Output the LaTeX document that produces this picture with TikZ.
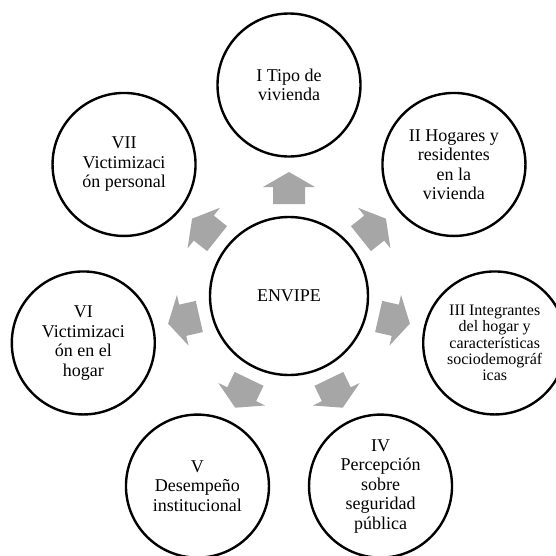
\documentclass[tikz,border=0pt]{standalone}
\usepackage{fontspec}
\setmainfont{Liberation Serif}
\tikzset{
  hubcirc/.style={circle, draw=black, line width=2.4pt, minimum size=158pt,
                  inner sep=0pt, font=\fontsize{18pt}{19.5pt}\selectfont},
  partcirc/.style={circle, draw=black, line width=2.4pt, minimum size=143pt,
                   inner sep=0pt, align=center, font=\fontsize{18pt}{19.5pt}\selectfont},
  smalltext/.style={font=\fontsize{16pt}{16.4pt}\selectfont},
  blockarr/.style={fill=black!35, draw=none},
}
\begin{document}
\begin{tikzpicture}[x=1pt, y=1pt]
  \useasboundingbox (-289,-259) rectangle (267,296);
  \clip (-289,-259) rectangle (267,296);

  \node[hubcirc] (hub) at (0,0) {ENVIPE};

  \node[partcirc] (s1) at (90:211) {I Tipo de\\vivienda};
  \node[partcirc] (s2) at (38.57:211) {II Hogares y\\residentes\\en la\\vivienda};
  \node[partcirc, smalltext] (s3) at (-12.86:211) {III Integrantes\\del hogar y\\características\\sociodemográf\\icas};
  \node[partcirc] (s4) at (-64.29:211) {IV\\Percepción\\sobre\\seguridad\\pública};
  \node[partcirc] (s5) at (-115.71:211) {V\\Desempeño\\institucional};
  \node[partcirc] (s6) at (-167.14:211) {VI\\Victimizaci\\ón en el\\hogar};
  \node[partcirc] (s7) at (141.43:211) {VII\\Victimizaci\\ón personal};

  % block arrows from the hub outwards
  \foreach \a in {90, 38.57, -12.86, -64.29, -115.71, -167.14, 141.43} {
    \fill[blockarr, rotate=\a] (92,-16) -- (109,-16) -- (109,-26) -- (124,0)
      -- (109,26) -- (109,16) -- (92,16) -- cycle;
  }
\end{tikzpicture}
\end{document}
